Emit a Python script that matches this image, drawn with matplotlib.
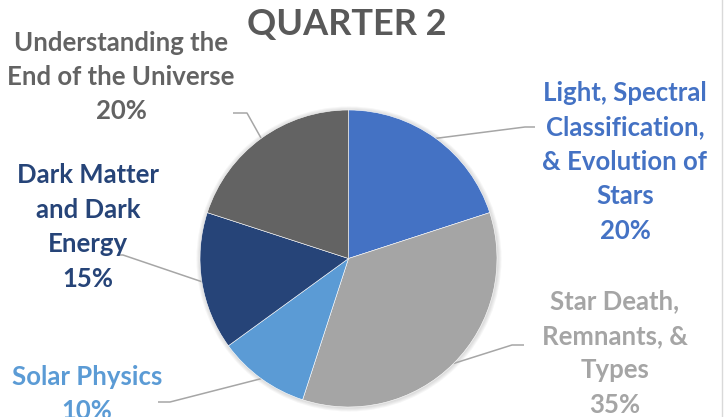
import numpy as np
import matplotlib
matplotlib.use("Agg")
import matplotlib.pyplot as plt
from matplotlib.lines import Line2D
from matplotlib.patches import Circle

# chart data
topics = ["Light, Spectral\nClassification,\n& Evolution of\nStars",
          "Star Death,\nRemnants, &\nTypes",
          "Solar Physics",
          "Dark Matter\nand Dark\nEnergy",
          "Understanding the\nEnd of the Universe"]
shares = [20, 35, 10, 15, 20]
colors = ["#4472C4", "#A5A5A5", "#5B9BD5", "#264478", "#636363"]
label_colors = ["#4472C4", "#A5A5A5", "#5B9BD5", "#264478", "#636363"]

W, H = 724, 417
CX, CY, R = 348.5, H - 258.5, 148.5

# label layout (pixel coords, y from top): text centre, elbow, line end
label_pos = [(625, 162), (615, 353), (87, 394), (88, 227), (121, 77)]
elbows = [(525, 127), (512, 345), (170, 402), (123, 255), (247, 113)]
ends = [(535, 127), (524, 345), (158, 402), (118, 255), (233, 113)]

plt.rcParams["font.family"] = ["Lato", "DejaVu Sans"]
plt.rcParams["font.weight"] = "bold"

fig = plt.figure(figsize=(W / 100, H / 100), dpi=100)
ax = fig.add_axes([0, 0, 1, 1])

# soft glow around the pie
for k in range(1, 5):
    ax.add_patch(Circle((CX + 0.5, CY - 0.5), R + k, color="#808080",
                        alpha=0.07, lw=0, zorder=0))

wedges, _ = ax.pie(shares, colors=colors, startangle=90, counterclock=False,
                   center=(CX, CY), radius=R, frame=True,
                   wedgeprops=dict(edgecolor="white", linewidth=0.4, zorder=2))
ax.set_xlim(0, W)
ax.set_ylim(0, H)
ax.set_aspect("auto")
ax.axis("off")

for w, txt, pct, col, (tx, ty), (ex, ey), (fx, fy) in zip(
        wedges, topics, shares, label_colors, label_pos, elbows, ends):
    mid = np.deg2rad((w.theta1 + w.theta2) / 2)
    sx, sy = CX + R * np.cos(mid), CY + R * np.sin(mid)
    ax.plot([sx, ex, fx], [sy, H - ey, H - fy], color="#A6A6A6", lw=1.1,
            solid_capstyle="butt", zorder=1)
    ax.text(tx, H - ty, f"{txt}\n{pct}%", color=col, fontsize=18.5,
            fontweight="bold", ha="center", va="center", linespacing=1.52)

ax.text(347, H - 24, "QUARTER 2", color="#595959", fontsize=26,
        fontweight="bold", ha="center", va="center")

fig.add_artist(Line2D([722 / W, 722 / W], [0, 1], color="#D9D9D9", lw=1))

fig.savefig("out.png", dpi=100)
